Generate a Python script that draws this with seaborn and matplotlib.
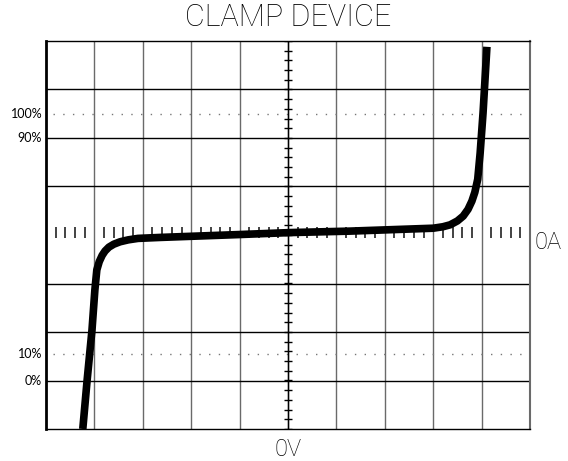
import numpy as np
import pandas as pd
import matplotlib
matplotlib.use("Agg")
import matplotlib.pyplot as plt
import seaborn as sns

# Curve trace in screen divisions (x: -5..5, y: -4..4; 0,0 = 0V / 0A)
volts = [-4.24, -4.15, -4.05, -3.99, -3.95, -3.90, -3.84, -3.78, -3.70, -3.60,
         -3.47, -3.30, -3.10, -2.64, -0.99, 0.04, 1.28, 3.00, 3.20, 3.35,
         3.50, 3.62, 3.72, 3.80, 3.86, 3.92, 3.97, 4.03, 4.11]
amps = [-4.00, -2.99, -1.96, -1.13, -0.72, -0.55, -0.42, -0.33, -0.25, -0.19,
        -0.14, -0.10, -0.07, -0.05, 0.01, 0.05, 0.08, 0.14, 0.17, 0.21,
        0.29, 0.39, 0.53, 0.70, 0.88, 1.15, 1.69, 2.52, 3.88]

# reference levels (divisions) and labels
level_labels = ["100%", "90%", "10%", "0%"]
level_pos = [2.5, 2.0, -2.45, -3.0]
dotted_levels = [2.5, -2.45]

title = "CLAMP DEVICE"
xlabel = "0V"
zero_label = "0A"

df = pd.DataFrame({"V": volts, "I": amps})

sns.set_style("white")
fig = plt.figure(figsize=(5.68, 4.61), dpi=100)
ax = fig.add_axes([46 / 568, 1 - 429 / 461, 484 / 568, 388 / 461])
ax.set_xlim(-5, 5)
ax.set_ylim(-4, 4)

# graticule
for xv in range(-4, 5):
    ax.axvline(xv, color="#6a6a6a", lw=1.0, zorder=1)
for yv in [-3, -2, -1, 1, 2, 3]:
    ax.axhline(yv, color="black", lw=1.0, zorder=1)

# dotted reference lines
for yv in dotted_levels:
    ax.plot([-4.85, 4.85], [yv, yv], color="#777777", lw=1.0,
            linestyle=(0, (1, 6)), zorder=1)

# center cross with minor ticks
ax.axvline(0, color="black", lw=1.0, zorder=1)
minor = np.arange(-5, 5.01, 0.2)
ax.hlines([m for m in np.arange(-4, 4.01, 0.2)], -0.085, 0.085,
          color="black", lw=1.0, zorder=1)
ax.vlines([m for m in minor if abs(m - round(m)) > 1e-6], -0.07, 0.16,
          color="#222222", lw=1.2, zorder=1)

# trace
sns.lineplot(data=df, x="V", y="I", sort=False, color="black", lw=5.5,
             ax=ax, zorder=3, solid_capstyle="butt", solid_joinstyle="round")

ax.set_xticks([])
ax.set_yticks([])
ax.set_xlabel("")
ax.set_ylabel("")
for s in ["top", "bottom"]:
    ax.spines[s].set_color("black")
    ax.spines[s].set_linewidth(1.0)
ax.spines["left"].set_color("black")
ax.spines["left"].set_linewidth(2.0)
ax.spines["right"].set_color("#6a6a6a")
ax.spines["right"].set_linewidth(1.5)

small_font = ["Lato", "DejaVu Sans"]
big_font = ["Roboto", "DejaVu Sans"]
for lab, pos in zip(level_labels, level_pos):
    ax.text(-5.08, pos, lab, ha="right", va="center", fontsize=9,
            family=small_font, color="black")

ax.text(5.1, -0.16, zero_label, ha="left", va="center", fontsize=17,
        family=big_font, weight="light", color="black")
fig.text(288 / 568, 1 - 449 / 461, xlabel, ha="center", va="center",
         fontsize=17, family=big_font, weight="light", color="black")
fig.text(288 / 568, 1 - 18 / 461, title, ha="center", va="center",
         fontsize=22, family=big_font, weight="light", color="black")

fig.savefig("out.png", dpi=100)
